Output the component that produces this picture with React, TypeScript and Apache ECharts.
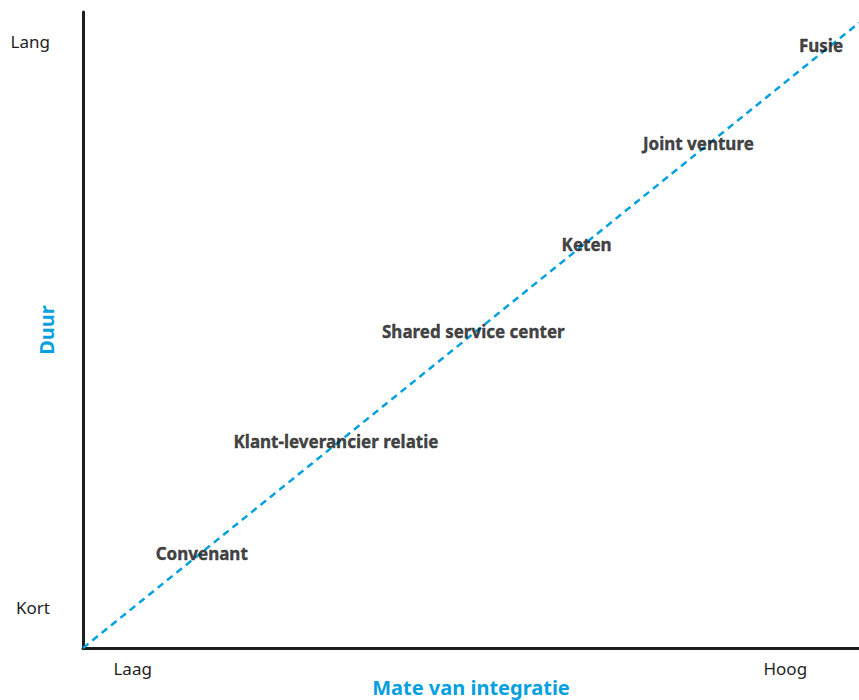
import React, { useEffect, useRef } from "react";
import * as echarts from "echarts";

const xTickValues = [6.4, 90.5];
const xTickLabels = ["Laag", "Hoog"];
const yTickValues = [6.3, 95.3];
const yTickLabels = ["Kort", "Lang"];

const forms = ["Convenant", "Klant-leverancier relatie", "Shared service center", "Keten", "Joint venture", "Fusie"];
const formX = [15.3, 32.6, 50.3, 64.9, 79.3, 95.1];
const formY = [14.9, 32.4, 49.8, 63.4, 79.4, 94.8];

const trendX = [0, 100];
const trendY = [0, 98.3];

const BLUE = "#04a0e0";
const DARK = "#1e1e1e";
const FONT = "Noto Sans";

export default function App() {
  const ref = useRef<HTMLDivElement>(null);
  useEffect(() => {
    document.body.style.margin = "0";
    const chart = echarts.init(ref.current!, null, { renderer: "svg" });
    chart.setOption({
      animation: false,
      backgroundColor: "#ffffff",
      textStyle: { fontFamily: FONT },
      grid: { left: 83, right: 0, top: 12, bottom: 52, containLabel: false, outerBoundsMode: "none" },
      xAxis: {
        type: "value",
        min: 0,
        max: 100,
        name: "Mate van integratie",
        nameLocation: "middle",
        nameGap: 29,
        nameMoveOverlap: false,
        nameTextStyle: { color: BLUE, fontSize: 20, fontWeight: "bold", fontFamily: FONT },
        axisLine: { show: true, lineStyle: { color: DARK, width: 3 } },
        axisTick: { show: false },
        splitLine: { show: false },
        axisLabel: {
          customValues: xTickValues,
          formatter: (v: number) => xTickLabels[xTickValues.indexOf(v)] ?? "",
          color: DARK,
          fontSize: 17,
          margin: 12,
          fontFamily: FONT,
        },
      },
      yAxis: {
        type: "value",
        min: 0,
        max: 100,
        name: "Duur",
        nameLocation: "middle",
        nameGap: 27,
        nameRotate: 90,
        nameMoveOverlap: false,
        nameTextStyle: { color: BLUE, fontSize: 20, fontWeight: "bold", fontFamily: FONT },
        axisLine: { show: true, lineStyle: { color: DARK, width: 3 } },
        axisTick: { show: false },
        splitLine: { show: false },
        axisLabel: {
          customValues: yTickValues,
          formatter: (v: number) => yTickLabels[yTickValues.indexOf(v)] ?? "",
          color: DARK,
          fontSize: 17,
          margin: 33,
          fontFamily: FONT,
        },
      },
      series: [
        {
          type: "line",
          data: trendX.map((x, i) => [x, trendY[i]]),
          symbol: "none",
          lineStyle: { color: BLUE, width: 2.5, type: [7, 5] },
          silent: true,
          z: 1,
        },
        {
          type: "scatter",
          data: forms.map((n, i) => ({ name: n, value: [formX[i], formY[i]] })),
          symbolSize: 0,
          itemStyle: { color: "transparent" },
          label: {
            show: true,
            position: "inside",
            formatter: (p: any) => p.name,
            color: "#111111",
            fontSize: 17,
            fontWeight: 700,
            fontFamily: FONT,
            textBorderWidth: 0.4,
            textBorderColor: "#111111",
          },
          z: 3,
        },
      ],
    });
    return () => chart.dispose();
  }, []);
  return <div ref={ref} style={{ position: "absolute", left: 0, top: 0, width: 859, height: 700 }} />;
}
